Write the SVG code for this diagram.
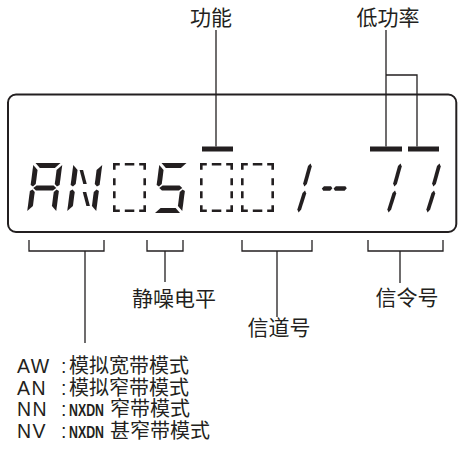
<svg xmlns="http://www.w3.org/2000/svg" width="458" height="452" viewBox="0 0 458 452">
<style>
.ln{fill:none;stroke:#231f20;stroke-width:1.3}
.frame{fill:none;stroke:#231f20;stroke-width:2}
.seg{fill:#231f20}
.db{fill:none;stroke:#231f20;stroke-width:2.6}
.lbl{font-family:"Noto Sans CJK SC","Noto Sans",sans-serif;font-size:21px;fill:#231f20;text-anchor:middle}
.lg{font-family:"Liberation Sans","Noto Sans CJK SC",sans-serif;font-size:19.5px;fill:#231f20}
.ls{letter-spacing:1.5px}
.cjk{font-family:"Noto Sans CJK SC",sans-serif;font-size:20px}
.nx{font-family:"Liberation Sans",sans-serif;font-size:17px;font-weight:bold}
</style>
<defs>
<polygon id="sa" points="2,0 27,0 22,5 7,5"/>
<polygon id="sb" points="29,2 29,22 26.5,23.5 24,21 24,7"/>
<polygon id="sc" points="29,28 29,48 24,43 24,29 26.5,26.5"/>
<polygon id="sd" points="7,45 22,45 27,50 2,50"/>
<polygon id="se" points="0,28 2.5,26.5 5,29 5,43 0,48"/>
<polygon id="sf" points="0,2 5,7 5,21 2.5,23.5 0,22"/>
<polygon id="sg" points="3,25 6,22.5 23,22.5 26,25 23,27.5 6,27.5"/>
<polygon id="sh" points="7,7 10.5,7 16,21 12.5,21"/>
<polygon id="sk" points="13,29 16.5,29 22,43 18.5,43"/>
<polygon id="l1" points="28.6,0.5 30.2,3.5 27.6,21 25.4,23.5 23.8,20.5 26.4,3"/>
<polygon id="l2" points="26.6,27.5 28.2,30.5 25.2,46.5 23,49.5 21.4,46.5 24.4,30"/>
<path id="dbox" d="M0,5.5V0H5.5M10.5,0H20M24.9,0H30.4V5.5M30.4,14V21M30.4,27V34M30.4,40.9V46.4H24.9M20,46.4H10.5M5.5,46.4H0V40.9M0,34V27M0,21V14"/>
</defs>

<g id="display">
<rect class="frame" x="8" y="94.5" width="448.3" height="137.5" rx="8"/>
<g id="char-A" class="seg" transform="translate(33.5 163) skewX(-7.4)">
<use href="#sa"/><use href="#sb"/><use href="#sc"/><use href="#se"/><use href="#sf"/><use href="#sg"/>
</g>
<g id="char-N" class="seg" transform="translate(73.5 163) skewX(-7.4)">
<use href="#sb"/><use href="#sc"/><use href="#se"/><use href="#sf"/><use href="#sh"/><use href="#sk"/>
</g>
<g id="blank-1" class="db"><use href="#dbox" x="114.3" y="164.3"/></g>
<g id="char-5" class="seg" transform="translate(159.5 163) skewX(-7.4)">
<use href="#sa"/><use href="#sf"/><use href="#sg"/><use href="#sc"/><use href="#sd"/>
</g>
<g id="blank-2" class="db"><use href="#dbox" x="201.3" y="164.3"/></g>
<g id="blank-3" class="db"><use href="#dbox" x="242.3" y="164.3"/></g>
<g id="char-1a" class="seg" transform="translate(282 163) skewX(-7.4)">
<use href="#l1"/><use href="#l2"/>
</g>
<g id="dashes" class="seg">
<polygon points="321.8,188.6 324,186.3 331,186.3 332.4,188.3 330.2,190.8 323.2,190.8"/>
<polygon points="333.6,188.6 335.8,186.3 345.4,186.3 346.8,188.3 344.6,190.8 335,190.8"/>
</g>
<g id="char-1b" class="seg" transform="translate(372 163) skewX(-7.4)">
<use href="#l1"/><use href="#l2"/>
</g>
<g id="char-1c" class="seg" transform="translate(411 163) skewX(-7.4)">
<use href="#l1"/><use href="#l2"/>
</g>
<g id="bars" class="seg">
<rect x="202" y="146.5" width="31" height="5"/>
<rect x="370" y="146.5" width="32" height="5"/>
<rect x="408" y="146.5" width="31" height="5"/>
</g>
</g>

<g id="connectors">
<path class="ln" d="M216,30V146.5"/>
<path class="ln" d="M386,30V146.5M386,75H417V146.5"/>
<path class="ln" d="M29,240V251H104V240M85,251V343"/>
<path class="ln" d="M147,240V251H183V240M165,251V282"/>
<path class="ln" d="M242,240V251H312V240M277,251V317"/>
<path class="ln" d="M368,240V251H443V240M400,251V283"/>
</g>

<g id="label-function"><text class="lbl" x="211" y="25">功能</text></g>
<g id="label-lowpower"><text class="lbl" x="388" y="25">低功率</text></g>
<g id="label-squelch"><text class="lbl" x="174" y="306">静噪电平</text></g>
<g id="label-channel"><text class="lbl" x="279" y="335">信道号</text></g>
<g id="label-signal"><text class="lbl" x="407" y="305">信令号</text></g>

<g id="legend" fill="#231f20">
<text class="lg" y="373"><tspan class="ls" x="17">AW</tspan><tspan x="61">:</tspan><tspan class="cjk" x="69">模拟宽带模式</tspan></text>
<text class="lg" y="394.5"><tspan class="ls" x="17">AN</tspan><tspan x="61">:</tspan><tspan class="cjk" x="69">模拟窄带模式</tspan></text>
<text class="lg" y="416"><tspan class="ls" x="17">NN</tspan><tspan x="61">:</tspan><tspan class="nx" x="69" textLength="35" lengthAdjust="spacingAndGlyphs">NXDN</tspan><tspan class="cjk" x="110">窄带模式</tspan></text>
<text class="lg" y="437.5"><tspan class="ls" x="17">NV</tspan><tspan x="61">:</tspan><tspan class="nx" x="69" textLength="35" lengthAdjust="spacingAndGlyphs">NXDN</tspan><tspan class="cjk" x="110">甚窄带模式</tspan></text>
</g>
</svg>
